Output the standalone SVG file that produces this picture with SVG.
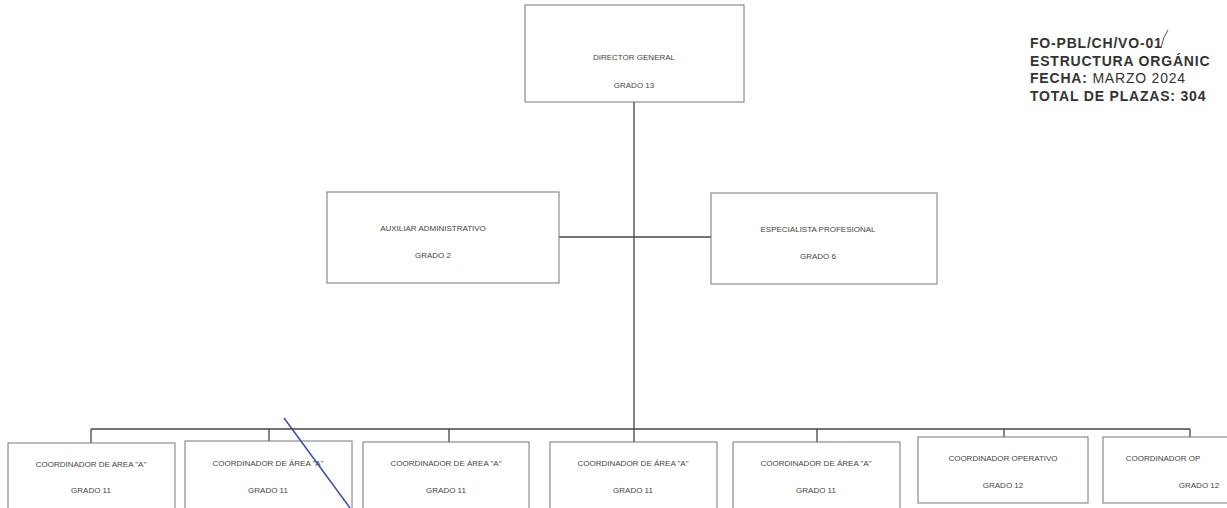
<svg xmlns="http://www.w3.org/2000/svg" width="1227" height="508" viewBox="0 0 1227 508">
<style>
.box{fill:#fff;stroke:#777;stroke-width:1}
.t{font-family:"Liberation Sans",Arial,sans-serif;font-size:8px;fill:#444;text-anchor:middle}
.c{stroke:#444;stroke-width:1.3;fill:none}
.h{font-family:"Liberation Sans",Arial,sans-serif;font-size:14px;letter-spacing:0.8px;fill:#333;font-weight:bold}
</style>
<rect width="1227" height="508" fill="#fff"/>
<g id="connectors">
<line class="c" x1="634" y1="102" x2="634" y2="429"/>
<line class="c" x1="559" y1="237" x2="711" y2="237"/>
<line class="c" x1="91" y1="429" x2="1190" y2="429"/>
<line class="c" x1="91" y1="429" x2="91" y2="443"/>
<line class="c" x1="269" y1="429" x2="269" y2="441"/>
<line class="c" x1="449" y1="429" x2="449" y2="442"/>
<line class="c" x1="634" y1="429" x2="634" y2="442"/>
<line class="c" x1="817" y1="429" x2="817" y2="442"/>
<line class="c" x1="1004" y1="429" x2="1004" y2="437"/>
<line class="c" x1="1190" y1="429" x2="1190" y2="437"/>
</g>
<g id="director"><rect class="box" x="525" y="5" width="219" height="97"/><text class="t" x="634" y="60">DIRECTOR GENERAL</text><text class="t" x="634" y="88">GRADO 13</text></g>
<g id="auxiliar"><rect class="box" x="327" y="192" width="232" height="91"/><text class="t" x="433" y="231">AUXILIAR ADMINISTRATIVO</text><text class="t" x="433" y="258">GRADO 2</text></g>
<g id="especialista"><rect class="box" x="711" y="193" width="226" height="91"/><text class="t" x="818" y="232">ESPECIALISTA PROFESIONAL</text><text class="t" x="818" y="259">GRADO 6</text></g>
<g id="coord1"><rect class="box" x="8" y="443" width="167" height="70"/><text class="t" x="91" y="467">COORDINADOR DE AREA "A"</text><text class="t" x="91" y="493">GRADO 11</text></g>
<g id="coord2"><rect class="box" x="185" y="441" width="167" height="72"/><text class="t" x="268" y="466">COORDINADOR DE ÁREA "A"</text><text class="t" x="268" y="493">GRADO 11</text></g>
<g id="coord3"><rect class="box" x="363" y="442" width="166" height="71"/><text class="t" x="446" y="466">COORDINADOR DE ÁREA "A"</text><text class="t" x="446" y="493">GRADO 11</text></g>
<g id="coord4"><rect class="box" x="550" y="442" width="167" height="71"/><text class="t" x="633" y="466">COORDINADOR DE ÁREA "A"</text><text class="t" x="633" y="493">GRADO 11</text></g>
<g id="coord5"><rect class="box" x="733" y="442" width="167" height="71"/><text class="t" x="816" y="466">COORDINADOR DE ÁREA "A"</text><text class="t" x="816" y="493">GRADO 11</text></g>
<g id="coord6"><rect class="box" x="918" y="437" width="170" height="66"/><text class="t" x="1003" y="461">COORDINADOR OPERATIVO</text><text class="t" x="1003" y="488">GRADO 12</text></g>
<g id="coord7"><rect class="box" x="1103" y="437" width="140" height="66"/><text class="t" x="1163" y="461">COORDINADOR OP</text><text class="t" x="1199" y="488">GRADO 12</text></g>
<g id="header">
<text class="h" x="1030" y="48">FO-PBL/CH/VO-01</text>
<text class="h" x="1030" y="66">ESTRUCTURA ORGÁNIC</text>
<text class="h" x="1030" y="83">FECHA: <tspan font-weight="normal">MARZO 2024</tspan></text>
<text class="h" x="1030" y="101">TOTAL DE PLAZAS: 304</text>
</g>
<g id="pen" stroke="#3a4fa0" fill="none" stroke-width="1.5">
<line x1="284" y1="418" x2="350" y2="508"/>
<path d="M1161 48 Q1163 37 1168 30" stroke-width="1" stroke="#555"/>
</g>
</svg>
